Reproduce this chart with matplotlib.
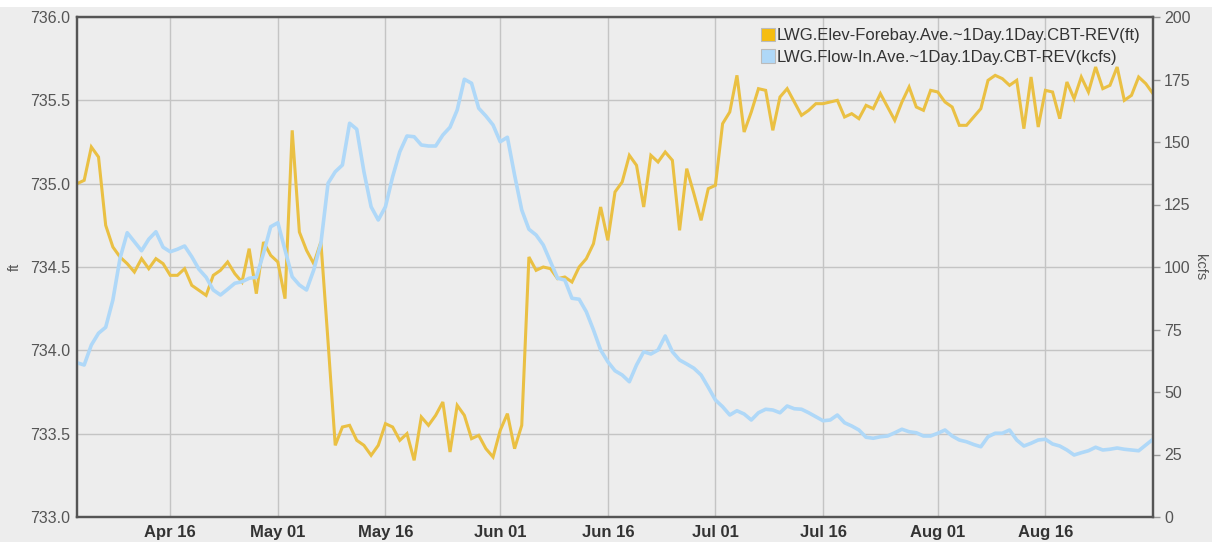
import numpy as np
import pandas as pd
import matplotlib
matplotlib.use("Agg")
import matplotlib.pyplot as plt
import matplotlib.dates as mdates
from matplotlib.patches import Patch, Rectangle

plt.rcParams['font.family'] = ['Liberation Sans', 'DejaVu Sans']

# daily values, Apr 03 .. Aug 31
dates = pd.date_range('2017-04-03', '2017-08-31', freq='D')

elev_ft = [
    735.00, 735.02, 735.22, 735.16, 734.75, 734.62, 734.56, 734.52, 734.47, 734.55,
    734.49, 734.55, 734.52, 734.45, 734.45, 734.49, 734.39, 734.36, 734.33, 734.45,
    734.48, 734.53, 734.46, 734.41, 734.61, 734.34, 734.65, 734.57, 734.53, 734.31,
    735.32, 734.71, 734.60, 734.52, 734.65, 734.05, 733.43, 733.54, 733.55, 733.46,
    733.43, 733.37, 733.43, 733.56, 733.54, 733.46, 733.50, 733.34, 733.60, 733.55,
    733.61, 733.69, 733.39, 733.67, 733.61, 733.47, 733.49, 733.41, 733.36, 733.52,
    733.62, 733.41, 733.55, 734.56, 734.48, 734.50, 734.49, 734.43, 734.44, 734.41,
    734.50, 734.55, 734.64, 734.86, 734.66, 734.95, 735.01, 735.17, 735.11, 734.86,
    735.17, 735.13, 735.19, 735.14, 734.72, 735.09, 734.94, 734.78, 734.97, 734.99,
    735.36, 735.43, 735.65, 735.31, 735.43, 735.57, 735.56, 735.32, 735.52, 735.57,
    735.49, 735.41, 735.44, 735.48, 735.48, 735.49, 735.50, 735.40, 735.42, 735.39,
    735.47, 735.45, 735.54, 735.46, 735.38, 735.49, 735.58, 735.46, 735.44, 735.56,
    735.55, 735.49, 735.46, 735.35, 735.35, 735.40, 735.45, 735.62, 735.65, 735.63,
    735.59, 735.62, 735.33, 735.64, 735.34, 735.56, 735.55, 735.39, 735.61, 735.51,
    735.64, 735.55, 735.70, 735.57, 735.59, 735.70, 735.50, 735.53, 735.64, 735.60,
    735.54,
]

flow_kcfs = [
    61.7, 60.8, 68.8, 73.5, 75.9, 86.8, 103.5, 113.7, 110.1, 106.5,
    111.1, 114.1, 107.9, 106.1, 107.1, 108.4, 104.1, 99.1, 95.9, 90.8,
    88.8, 91.1, 93.5, 94.1, 95.5, 95.9, 105.5, 116.1, 117.7, 106.8,
    96.1, 92.8, 90.8, 98.8, 109.5, 133.5, 138.1, 140.8, 157.5, 155.1,
    138.1, 124.1, 118.8, 124.1, 136.1, 146.1, 152.4, 152.1, 148.8, 148.4,
    148.4, 152.8, 155.9, 162.8, 175.1, 173.5, 163.5, 160.4, 156.8, 150.1,
    151.9, 136.8, 122.8, 115.1, 112.8, 108.8, 102.1, 95.5, 94.8, 87.5,
    87.1, 82.1, 74.8, 66.8, 62.1, 58.5, 56.8, 54.1, 60.8, 66.1,
    65.2, 66.8, 72.4, 66.1, 62.8, 61.2, 59.5, 56.8, 51.9, 46.8,
    44.1, 40.8, 42.5, 41.2, 38.8, 41.7, 43.1, 42.8, 41.7, 44.4,
    43.3, 43.1, 41.7, 40.1, 38.5, 38.8, 40.8, 37.7, 36.4, 34.8,
    31.9, 31.5, 32.1, 32.4, 33.7, 35.1, 34.1, 33.7, 32.4, 32.4,
    33.5, 34.8, 32.4, 30.8, 30.1, 29.0, 28.1, 32.1, 33.5, 33.5,
    34.8, 30.8, 28.4, 29.5, 30.8, 31.1, 29.2, 28.4, 26.8, 24.8,
    25.7, 26.5, 27.9, 26.8, 27.1, 27.6, 27.1, 26.8, 26.5, 28.8,
    31.1,
]

elev_name = 'LWG.Elev-Forebay.Ave.~1Day.1Day.CBT-REV(ft)'
flow_name = 'LWG.Flow-In.Ave.~1Day.1Day.CBT-REV(kcfs)'

gold = '#EAC043'
blue = '#AFD8F8'
bg = '#EDEDED'
txt = '#555555'

fig = plt.figure(figsize=(12.12, 5.42), dpi=100, facecolor=bg)
fig.patches.append(Rectangle((0, 1 - 7 / 542), 1, 7 / 542, transform=fig.transFigure,
                             facecolor='white', edgecolor='none', zorder=-1))
ax = fig.add_axes([77 / 1212, 1 - 517 / 542, (1153 - 77) / 1212, 500 / 542])
ax.set_facecolor(bg)

ax.plot(dates, elev_ft, color=gold, lw=2.2, solid_joinstyle='miter')
ax.set_ylim(733.0, 736.0)
ax.set_yticks(np.arange(733.0, 736.01, 0.5))
ax.yaxis.set_major_formatter(matplotlib.ticker.FormatStrFormatter('%.1f'))
ax.set_xlim(dates[0], dates[-1])
ax.xaxis.set_major_locator(mdates.DayLocator(bymonthday=[1, 16]))
ax.xaxis.set_major_formatter(mdates.DateFormatter('%b %d'))
ax.grid(True, color='#C4C4C4', lw=1.0)
ax.set_axisbelow(True)
ax.tick_params(axis='y', length=0, pad=5, labelsize=11.5, labelcolor=txt)
ax.tick_params(axis='x', length=0, pad=6, labelsize=12, labelcolor='#333333')
for lab in ax.get_xticklabels():
    lab.set_fontweight('bold')
ax.set_ylabel('ft', color=txt, fontsize=10.5)
ax.yaxis.set_label_coords(-0.051, 0.5)

ax2 = ax.twinx()
ax2.plot(dates, flow_kcfs, color=blue, lw=2.6)
ax2.set_ylim(0, 200)
ax2.set_yticks(np.arange(0, 201, 25))
ax2.tick_params(axis='y', length=5, width=1, color='#999999', pad=3,
                labelsize=11.5, labelcolor=txt)
ax2.set_ylabel('kcfs', color=txt, fontsize=10.5, rotation=-90, va='center')
ax2.yaxis.set_label_coords(1.044, 0.5)

for a in (ax, ax2):
    for s in a.spines.values():
        s.set_color('#555555')
        s.set_linewidth(1.6)

handles = [Patch(facecolor='#F6BD0F', edgecolor='#BBBBBB', lw=0.8),
           Patch(facecolor=blue, edgecolor='#BBBBBB', lw=0.8)]
ax2.legend(handles, [elev_name, flow_name], loc='upper left',
           bbox_to_anchor=(761 / 1212, 1 - 28 / 542), bbox_transform=fig.transFigure,
           frameon=False, fontsize=12, handlelength=0.85, handleheight=0.85,
           handletextpad=0.1, labelspacing=0.35, borderpad=0, borderaxespad=0,
           labelcolor='#333333')

fig.savefig('out.png', dpi=100, facecolor=bg)
